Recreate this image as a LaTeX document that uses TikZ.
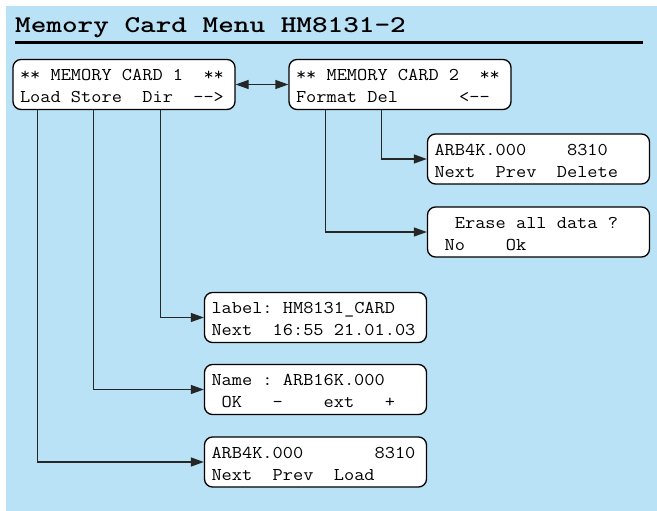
\documentclass[tikz,border=0pt]{standalone}
\usepackage{graphicx}
\usepackage{tikz}
\usetikzlibrary{arrows.meta}
\usepackage{xcolor}
\definecolor{panel}{RGB}{186,226,246}
\newcommand{\lcdfont}{\ttfamily\fontsize{18}{22}\selectfont}
\newcommand{\sk}[1]{\hspace*{#1\fontcharwd\font`x}}
\newcommand{\lcd}[2]{\scalebox{1.1}[1]{\begin{tabular}{@{}l@{}}\rule{0pt}{21pt}#1\\\rule[-7pt]{0pt}{7pt}#2\end{tabular}}}

\begin{document}
\begin{tikzpicture}[x=1pt,y=-1pt,>={Triangle[length=13pt,width=9pt]},
  lcd/.style={draw=black,fill=white,line width=1.3pt,rounded corners=8pt,
    text width=208pt,align=left,inner xsep=7pt,inner ysep=0pt,font=\lcdfont},
  link/.style={draw=black!85,line width=1.3pt,->}]
\useasboundingbox (0,0) rectangle (657,511);
\fill[panel] (6,6) rectangle (657,511);
\node[anchor=base west,inner sep=0pt] (title) at (15,33) {\scalebox{1.24}[1]{\fontsize{24}{28}\selectfont\ttfamily\bfseries Memory Card Menu HM8131-2}};
\draw[line width=3pt] (15,43) -- (643,43);
\node[lcd] (card1) at (124,84.5) {\lcd{**\sk{1}MEMORY\sk{1}CARD\sk{1}1\sk{2}**}{Load\sk{1}Store\sk{2}Dir\sk{2}-\kern0pt-\kern0pt>}};
\node[lcd] (card2) at (400,84.5) {\lcd{**\sk{1}MEMORY\sk{1}CARD\sk{1}2\sk{2}**}{Format\sk{1}Del\sk{6}<-\kern0pt-}};
\node[lcd] (del) at (538.5,159) {\lcd{ARB4K.000\sk{4}8310}{Next\sk{2}Prev\sk{2}Delete}};
\node[lcd] (erase) at (538.5,232) {\lcd{\sk{2}Erase\sk{1}all\sk{1}data\sk{1}?}{\sk{1}No\sk{4}Ok}};
\node[lcd] (dir) at (315.5,317.5) {\lcd{label:\sk{1}HM8131\_CARD}{Next\sk{2}16:55\sk{1}21.01.03}};
\node[lcd] (store) at (315.5,389.5) {\lcd{Name\sk{1}:\sk{1}ARB16K.000}{\sk{1}OK\sk{3}-\sk{4}ext\sk{3}+}};
\node[lcd] (load) at (315.5,462) {\lcd{ARB4K.000\sk{7}8310}{Next\sk{2}Prev\sk{2}Load}};
\draw[link,<->] (card1) -- (card2);
\draw[link] ([xshift=25pt]card1.south west) |- (load);
\draw[link] ([xshift=81pt]card1.south west) |- (store);
\draw[link] ([xshift=148pt]card1.south west) |- (dir);
\draw[link] ([xshift=37pt]card2.south west) |- (erase);
\draw[link] ([xshift=93pt]card2.south west) |- (del);
\end{tikzpicture}
\end{document}
